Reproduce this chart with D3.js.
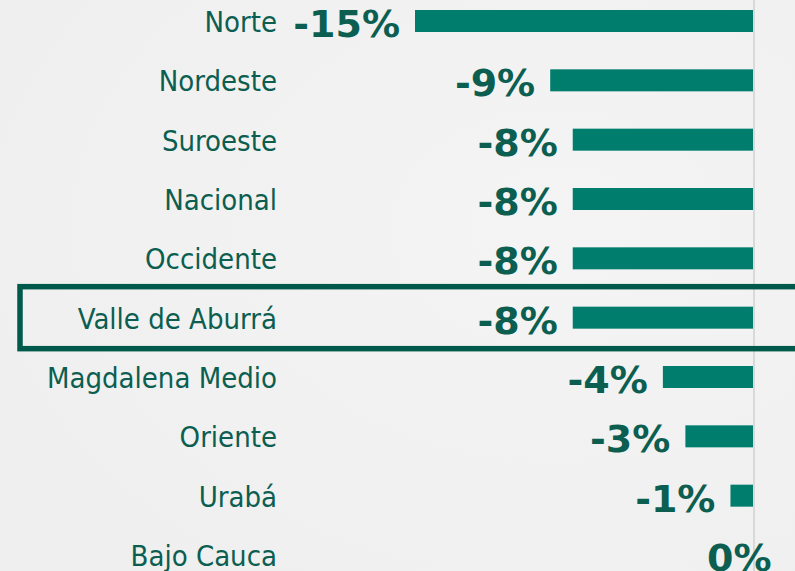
<!DOCTYPE html>
<html>
<head>
<meta charset="utf-8">
<script src="https://cdn.jsdelivr.net/npm/d3@7"></script>
<style>
  html, body { margin: 0; padding: 0; background: #f2f2f2; }
  svg { display: block; }
</style>
</head>
<body>
<div id="chart"></div>
<script>
// regiones y variacion (%)
const categories = ["Norte", "Nordeste", "Suroeste", "Nacional", "Occidente",
  "Valle de Aburrá", "Magdalena Medio", "Oriente", "Urabá", "Bajo Cauca"];
const values = [-15, -9, -8, -8, -8, -8, -4, -3, -1, 0];
const highlighted = "Valle de Aburrá";

const svgWidth = 795, svgHeight = 571;
const barColor = "#007d6d", textColor = "#0b5e50", boxColor = "#005a4c";

const svg = d3.select("#chart")
  .append("svg")
  .attr("width", svgWidth)
  .attr("height", svgHeight);

// fondo con textura suave
const defs = svg.append("defs");
const grad = defs.append("radialGradient").attr("id", "bg").attr("cx", "0.7").attr("cy", "0.4").attr("r", "0.8");
grad.append("stop").attr("offset", "0%").attr("stop-color", "#f4f4f4");
grad.append("stop").attr("offset", "100%").attr("stop-color", "#efefef");
svg.append("rect").attr("width", svgWidth).attr("height", svgHeight).attr("fill", "url(#bg)");

const data = categories.map(function(c, i) { return { region: c, value: values[i] }; });

var x = d3.scaleLinear().domain([-15, 0]).range([415, 753]);
var y = d3.scalePoint().domain(categories).range([21, 555]);
const barH = 22;

// linea del cero
svg.append("line")
  .attr("x1", x(0) + 1).attr("x2", x(0) + 1)
  .attr("y1", 0).attr("y2", svgHeight)
  .attr("stroke", "#d9d9d9")
  .attr("stroke-width", 2);

// barras
svg.selectAll(".bar")
  .data(data)
  .enter().append("rect")
  .attr("class", "bar")
  .attr("x", function(d) { return x(Math.min(0, d.value)); })
  .attr("y", function(d) { return y(d.region) - barH / 2; })
  .attr("width", function(d) { return Math.abs(x(d.value) - x(0)); })
  .attr("height", barH)
  .attr("fill", barColor);

// etiquetas de region
svg.selectAll(".cat")
  .data(data)
  .enter().append("text")
  .attr("class", "cat")
  .attr("x", 277)
  .attr("y", function(d) { return y(d.region) + 11; })
  .attr("text-anchor", "end")
  .style("font-family", "'DejaVu Sans Condensed', 'DejaVu Sans', sans-serif")
  .style("font-stretch", "condensed")
  .style("font-size", "29px")
  .attr("fill", textColor)
  .text(function(d) { return d.region; });

// etiquetas de valor
svg.selectAll(".val")
  .data(data)
  .enter().append("text")
  .attr("class", "val")
  .attr("x", function(d) { return d.value === 0 ? x(0) - 46 : x(d.value) - 15; })
  .attr("y", function(d) { return y(d.region) + 16; })
  .attr("text-anchor", function(d) { return d.value === 0 ? "start" : "end"; })
  .style("font-family", "'DejaVu Sans', sans-serif")
  .style("font-weight", "bold")
  .style("font-size", "38px")
  .attr("fill", textColor)
  .text(function(d) { return d.value + "%"; });

// recuadro de la region destacada
svg.append("rect")
  .attr("x", 20)
  .attr("y", y(highlighted) - 31)
  .attr("width", 800)
  .attr("height", 62)
  .attr("fill", "none")
  .attr("stroke", boxColor)
  .attr("stroke-width", 5.5);
</script>
</body>
</html>
